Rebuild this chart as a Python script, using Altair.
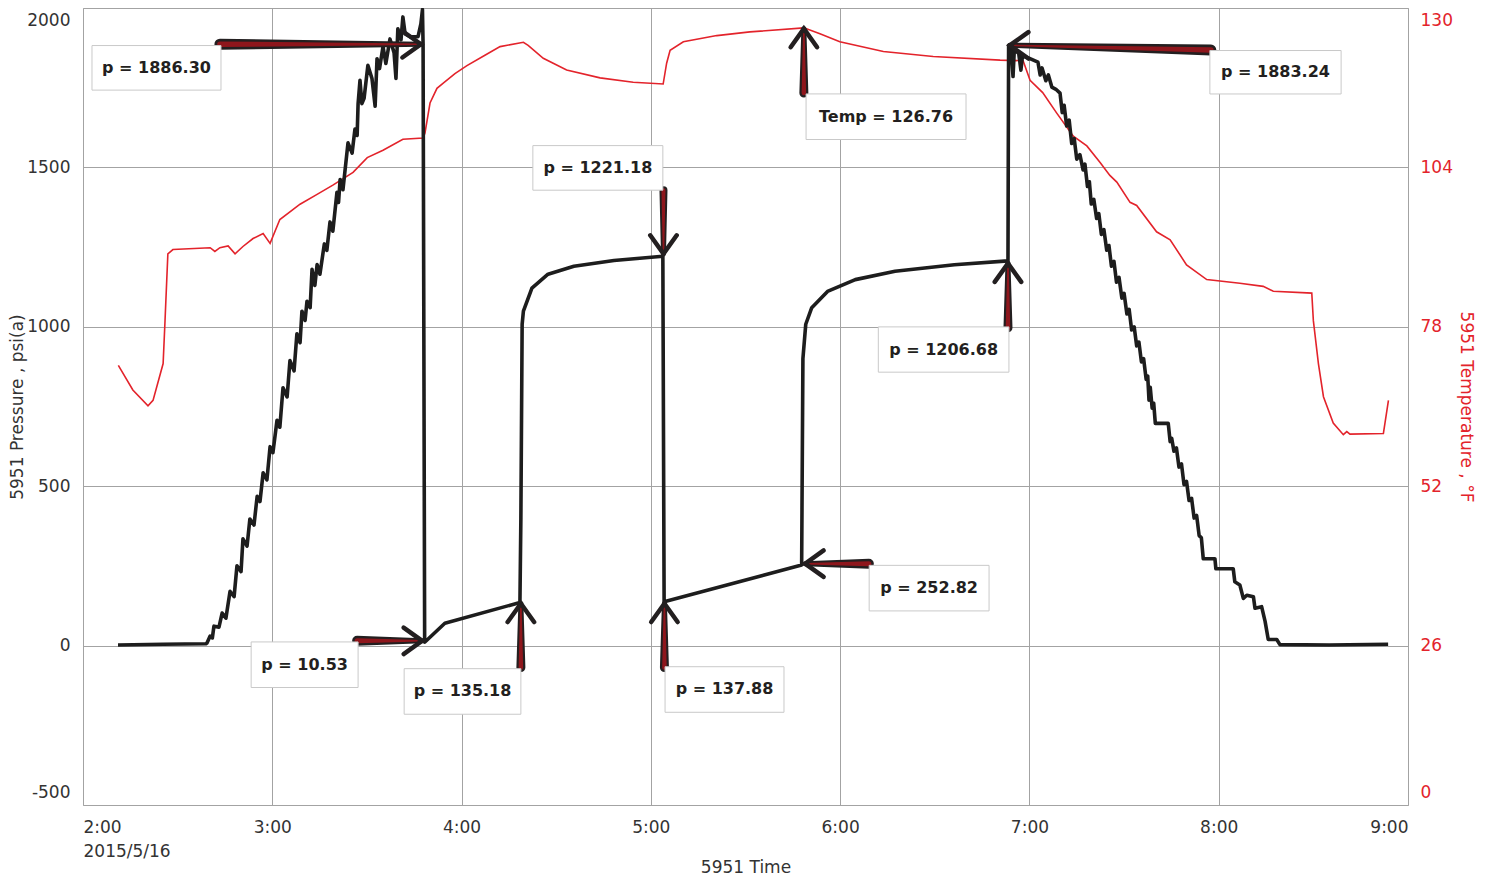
import altair as alt
import pandas as pd

# ---------------- data (minutes after 2:00 on 2015/5/16) ----------------
P_MIN = [11.1, 25.4, 39.0, 39.3, 40.3, 41.0, 41.5, 43.1, 44.1, 45.3, 46.6, 47.9, 48.8, 50.1, 50.7, 52.0,
         52.9, 54.2, 55.2, 56.1, 57.1, 58.3, 59.3, 60.2, 61.5, 62.4, 63.4, 64.7, 65.6, 66.9, 67.8, 68.8,
         69.4, 70.4, 71.0, 72.0, 72.6, 73.5, 74.2, 75.1, 76.5, 77.3, 78.3, 79.2, 80.5, 81.0, 81.5, 82.4,
         84.0, 85.3, 86.2, 86.9, 87.2, 87.8, 88.4, 89.1, 90.3, 91.6, 92.6, 93.2, 94.0, 95.1, 96.0, 97.3,
         98.6, 99.2, 99.8, 100.8, 101.4, 102.1, 103.7, 106.2, 107.1, 107.6, 107.8, 108.3,
         114.7, 138.5, 138.8, 139.2, 139.6, 142.3, 147.4, 155.6, 168.3, 183.8, 184.2,
         227.8, 228.2, 229.1, 231.0, 236.0, 244.8, 257.4, 276.2, 293.2,
         293.4, 294.2, 294.8, 295.2, 296.6, 297.3, 297.8, 300.0, 302.7, 303.4, 304.0, 305.2, 306.0, 307.1,
         308.4, 309.7, 310.4, 311.0, 311.8, 312.6, 313.4, 314.2, 315.0, 316.0, 317.0, 317.6, 318.4, 319.0,
         319.6, 320.4, 321.3, 322.0, 322.8, 323.6, 324.5, 325.2, 326.0, 326.8, 327.6, 328.4, 329.3, 330.0,
         330.9, 331.6, 332.4, 333.2, 334.0, 334.7, 335.5, 336.2, 337.0, 337.5, 337.9, 338.3, 338.9, 339.4,
         339.9, 344.0, 344.6, 345.1, 345.8, 346.6, 347.4, 348.2, 349.0, 349.8, 350.6, 351.4, 352.2, 353.0,
         353.8, 354.5, 355.1, 358.8, 359.1, 364.6, 365.1, 366.7, 367.8, 368.9, 371.0, 371.5, 373.6, 374.7,
         375.7, 378.4, 379.4, 395.0, 413.7]
P_PSI = [2, 4, 6, 8, 30, 24, 61, 58, 102, 86, 170, 154, 250, 232, 335, 312,
         397, 378, 468, 452, 542, 520, 624, 605, 707, 685, 809, 780, 894, 862, 978, 950,
         1049, 1020, 1080, 1060, 1180, 1130, 1195, 1165, 1260, 1240, 1329, 1300, 1422, 1390, 1462, 1430,
         1577, 1545, 1620, 1600, 1700, 1773, 1700, 1717, 1820, 1779, 1692, 1841, 1810, 1879, 1826, 1903,
         1860, 1779, 1935, 1900, 1972, 1919, 1910, 1910, 1950, 1995, 1886.30, 10.53,
         70, 135.18, 400, 1008, 1049, 1121, 1165, 1190, 1208, 1221.18, 137.88,
         252.82, 900, 1008, 1060, 1111, 1148, 1174, 1194.5, 1206.68,
         1883.24, 1872, 1785, 1868, 1858, 1805, 1850, 1842, 1830, 1790, 1812, 1772, 1790, 1752,
         1745, 1733, 1672, 1695, 1630, 1648, 1575, 1590, 1526, 1540, 1492, 1510, 1440, 1455,
         1385, 1400, 1340, 1355, 1290, 1305, 1240, 1255, 1190, 1205, 1140, 1155, 1090, 1105,
         1040, 1055, 990, 1000, 940, 952, 890, 900, 835, 845, 770, 810, 745, 760,
         697, 697, 640, 650, 610, 620, 560, 570, 505, 515, 455, 462, 400, 408,
         345, 338, 272.5, 272.5, 241, 241, 200, 190, 148, 158, 153, 117, 122, 76,
         19, 19, 3, 2, 4]

T_MIN = [11.2, 15.8, 20.6, 22.2, 25.4, 26.0, 26.9, 28.5, 40.3, 41.8, 43.4, 46.0, 48.2, 50.7, 53.9, 57.1,
         59.3, 62.4, 68.8, 74.2, 79.2, 85.6, 90.1, 95.1, 101.4, 107.8, 108.4, 110.0, 112.2, 114.1, 117.9,
         121.7, 127.4, 132.2, 139.6, 141.1, 145.9, 153.3, 163.9, 174.4, 183.9, 185.0, 186.1, 190.3, 200.9,
         211.4, 228.5, 233.6, 239.9, 253.7, 269.5, 290.7, 298.0, 300.2, 304.2, 308.6, 313.9, 318.2, 322.4,
         325.5, 327.7, 331.9, 334.0, 340.3, 344.6, 349.8, 356.2, 366.7, 374.1, 377.3, 389.5, 390.0, 391.6,
         393.2, 396.3, 399.5, 400.6, 401.6, 412.2, 413.8]
T_DEGF = [71.7, 67.7, 65.1, 66.0, 72.0, 79.0, 89.9, 90.6, 90.9, 90.3, 90.9, 91.2, 89.9, 91.1, 92.4, 93.2,
          91.6, 95.5, 98.0, 99.6, 101.1, 103.2, 105.6, 106.8, 108.6, 108.8, 109.6, 114.5, 116.9, 117.7, 119.3,
          120.6, 122.3, 123.7, 124.4, 123.9, 121.8, 119.9, 118.6, 117.9, 117.6, 121.0, 123.1, 124.5, 125.5,
          126.1, 126.76, 125.8, 124.5, 122.9, 122.1, 121.5, 121.4, 118.2, 116.2, 112.9, 109.1, 107.5, 104.8,
          102.7, 101.6, 98.3, 97.8, 93.5, 92.2, 88.1, 85.7, 85.1, 84.6, 83.8, 83.5, 79.0, 72.0,
          66.6, 62.3, 60.4, 60.9, 60.5, 60.6, 66.0]

# annotation boxes (text, box corners in minutes / psi)
ANN_TEXT = ["p = 1886.30", "p = 1221.18", "Temp = 126.76", "p = 1883.24", "p = 10.53",
            "p = 135.18", "p = 137.88", "p = 252.82", "p = 1206.68"]
BOX_M1 = [2.85, 142.6, 229.2, 357.2, 53.3, 101.8, 184.5, 249.2, 252.1]
BOX_M2 = [43.74, 183.8, 279.9, 398.8, 87.2, 138.8, 222.2, 287.2, 293.5]
BOX_P1 = [1882.2, 1568.4, 1730.5, 1866.6, 11.5, -72.4, -66.2, 251.7, 999.7]
BOX_P2 = [1742.4, 1428.5, 1587.5, 1730.3, -131.4, -215.3, -209.2, 108.8, 857.7]

# arrows: tip, tail, direction (deg clockwise from "pointing right"), tail width
ARR_TIP_M = [107.1, 107.5, 138.8, 184.0, 184.3, 228.9, 293.2, 228.5, 293.8]
ARR_TIP_P = [1886.3, 15, 132, 1229, 132, 257, 1199, 1935, 1883]
ARR_TAIL_M = [43.4, 86.9, 138.8, 184.0, 184.3, 249.1, 293.2, 228.5, 357.5]
ARR_TAIL_P = [1886.3, 15, -69, 1428, -69, 257, 997, 1733, 1868]
ARR_ANGLE = [0, 0, 270, 90, 270, 180, 270, 270, 180]
ARR_W = [11, 10, 9, 8, 9, 10, 9, 9, 11]

# ---------------- frames ----------------
dfp = pd.DataFrame({"m": P_MIN, "p": P_PSI, "i": range(len(P_MIN))})
dft = pd.DataFrame({"m": T_MIN, "t": T_DEGF, "i": range(len(T_MIN))})
dfb = pd.DataFrame({"label": ANN_TEXT, "m1": BOX_M1, "m2": BOX_M2, "p1": BOX_P1, "p2": BOX_P2})
dfb["mc"] = (dfb.m1 + dfb.m2) / 2
dfb["pc"] = (dfb.p1 + dfb.p2) / 2
rows = []
for k in range(len(ARR_TIP_M)):
    rows.append({"id": k, "m": ARR_TAIL_M[k], "p": ARR_TAIL_P[k], "w": ARR_W[k], "wi": ARR_W[k] * 0.5, "o": 0})
    rows.append({"id": k, "m": ARR_TIP_M[k], "p": ARR_TIP_P[k], "w": 5, "wi": 1.5, "o": 1})
dfa = pd.DataFrame(rows)
dfh = pd.DataFrame({"m": ARR_TIP_M, "p": ARR_TIP_P, "ang": ARR_ANGLE})

W, H = 1325, 797
FONT = "DejaVu Sans"
DARK = "#231f20"
RED = "#e3232b"
GRID = "#a3a3a3"

xs = alt.Scale(domain=[0, 420], nice=False, zero=False)
ys = alt.Scale(domain=[-500, 2000], nice=False, zero=False)
ts = alt.Scale(domain=[0, 130], nice=False, zero=False)

x_axis = alt.Axis(
    values=list(range(0, 421, 60)),
    labelExpr="datum.value == 0 ? ['2:00', '2015/5/16'] : (floor(datum.value / 60) + 2) + ':00'",
    title="5951 Time", grid=True, gridColor=GRID, gridWidth=1, ticks=False, domain=False,
    labelFont=FONT, labelFontSize=17, labelColor="#333333", labelPadding=14, labelFlush=True,
    labelLineHeight=24, labelBaseline="top",
    titleFont=FONT, titleFontSize=17, titleFontWeight="normal", titleColor="#333333",
    titleY=62, titleBaseline="middle",
)
y_axis = alt.Axis(
    values=[-500, 0, 500, 1000, 1500, 2000], title="5951 Pressure , psi(a)",
    labelExpr="'' + datum.value",
    grid=True, gridColor=GRID, gridWidth=1, ticks=False, domain=False,
    labelFont=FONT, labelFontSize=17, labelColor="#333333", labelPadding=13,
    labelFlush=True, labelFlushOffset=-4,
    titleFont=FONT, titleFontSize=17, titleFontWeight="normal", titleColor="#333333",
    titleX=-66, titleY=H / 2, titleAngle=270, titleBaseline="middle", titleAlign="center",
)
t_axis = alt.Axis(
    orient="right", values=[0, 26, 52, 78, 104, 130], title="5951 Temperature , °F",
    labelExpr="'' + datum.value",
    grid=False, ticks=False, domain=False,
    labelFont=FONT, labelFontSize=17, labelColor=RED, labelPadding=12,
    labelFlush=True, labelFlushOffset=-4,
    titleFont=FONT, titleFontSize=17, titleFontWeight="normal", titleColor=RED,
    titleX=57, titleY=H / 2, titleAngle=90, titleBaseline="middle", titleAlign="center",
)

X = alt.X("m:Q", scale=xs, axis=x_axis)
Y = alt.Y("p:Q", scale=ys, axis=y_axis)

temp_line = alt.Chart(dft).mark_line(color=RED, strokeWidth=1.6).encode(
    x=X,
    y=alt.Y("t:Q", scale=ts, axis=t_axis),
    order="i:Q",
)

press_line = alt.Chart(dfp).mark_line(color="#1d1d1d", strokeWidth=3.6, strokeJoin="round").encode(
    x=X, y=Y, order="i:Q",
)

arrow_outer = alt.Chart(dfa).mark_trail(color=DARK).encode(
    x=X, y=Y,
    size=alt.Size("w:Q", scale=None, legend=None),
    detail="id:N", order="o:Q",
)
arrow_inner = alt.Chart(dfa).mark_trail(color="#8e161c").encode(
    x=X, y=Y,
    size=alt.Size("wi:Q", scale=None, legend=None),
    detail="id:N", order="o:Q",
)
heads = alt.Chart(dfh).mark_point(
    shape="M-1.4,-1L0,0L-1.4,1", filled=False, stroke=DARK, strokeWidth=4.5,
    size=700, opacity=1, strokeJoin="miter", strokeCap="round",
).encode(
    x=X, y=Y,
    angle=alt.Angle("ang:Q", scale=None),
)
boxes = alt.Chart(dfb).mark_rect(fill="white", stroke="#c9c9c9", strokeWidth=1).encode(
    x=alt.X("m1:Q", scale=xs, axis=x_axis), x2="m2:Q",
    y=alt.Y("p1:Q", scale=ys, axis=y_axis), y2="p2:Q",
)
texts = alt.Chart(dfb).mark_text(font=FONT, fontWeight="bold", fontSize=16, color=DARK).encode(
    x=alt.X("mc:Q", scale=xs, axis=x_axis),
    y=alt.Y("pc:Q", scale=ys, axis=y_axis),
    text="label:N",
)

pressure_stack = alt.layer(press_line, arrow_outer, arrow_inner, heads, boxes, texts)

chart = alt.layer(temp_line, pressure_stack).resolve_scale(y="independent").properties(
    width=W, height=H,
    autosize=alt.AutoSizeParams(type="none"),
    padding={"left": 75, "top": 0, "right": 74, "bottom": 73},
    background="white",
).configure_view(stroke="#b8b8b8", strokeWidth=1)

chart.save("out.html", embed_options={"renderer": "svg", "actions": False})
